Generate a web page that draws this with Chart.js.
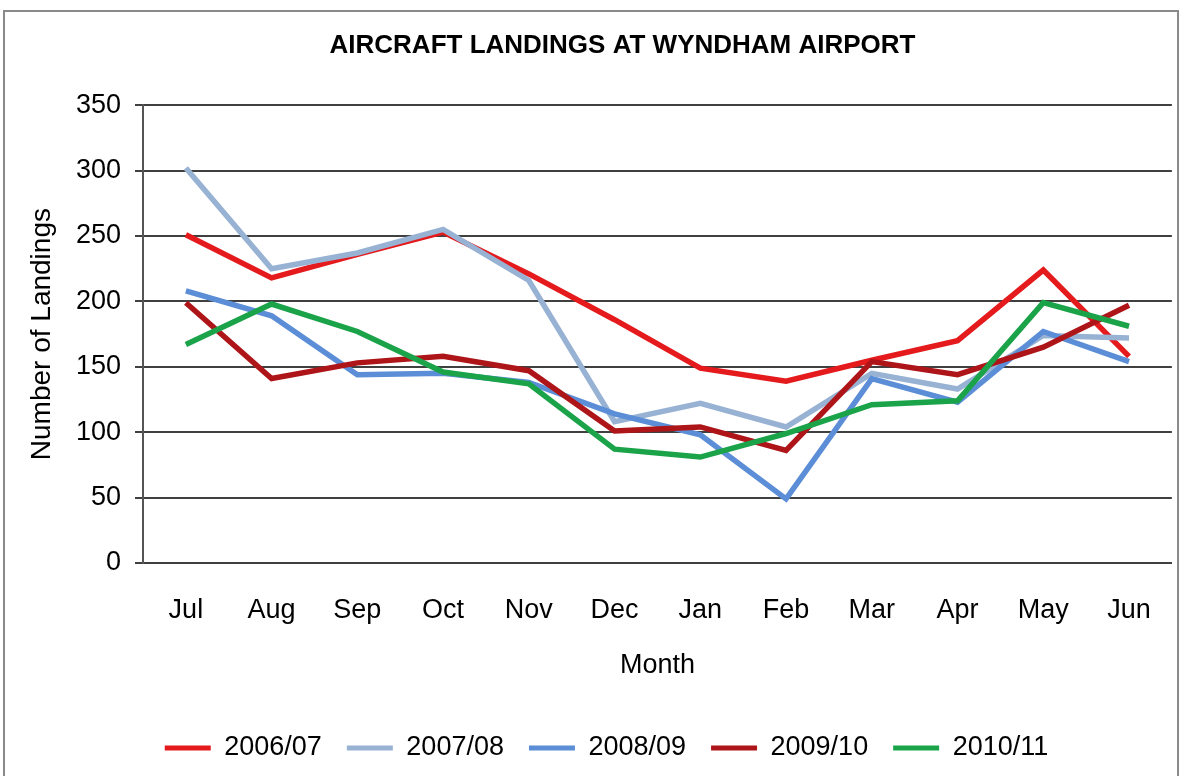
<!DOCTYPE html>
<html>
<head>
<meta charset="utf-8">
<script src="https://cdn.jsdelivr.net/npm/chart.js@4/dist/chart.umd.min.js"></script>
<style>
  html, body { margin: 0; padding: 0; background: #fff; }
  #wrap { width: 1182px; height: 776px; }
</style>
</head>
<body>
<div id="wrap"><canvas id="grafico" width="1182" height="776"></canvas></div>
<script>
// Datos del gráfico
const meses = ['Jul', 'Aug', 'Sep', 'Oct', 'Nov', 'Dec', 'Jan', 'Feb', 'Mar', 'Apr', 'May', 'Jun'];
const anios = ['2006/07', '2007/08', '2008/09', '2009/10', '2010/11'];
const aterrizajes0607 = [251, 218, 236, 253, 221, 186, 149, 139, 155, 170, 224, 158];
const aterrizajes0708 = [302, 225, 237, 255, 216, 108, 122, 104, 145, 133, 174, 172];
const aterrizajes0809 = [208, 189, 144, 145, 138, 114, 98, 49, 141, 123, 177, 154];
const aterrizajes0910 = [199, 141, 153, 158, 147, 101, 104, 86, 154, 144, 165, 197];
const aterrizajes1011 = [167, 198, 177, 146, 137, 87, 81, 99, 121, 124, 199, 181];
const colores = ['#E41A1C', '#98B2D4', '#5B8ED6', '#AE1519', '#1BA34A'];

const series = [aterrizajes0607, aterrizajes0708, aterrizajes0809, aterrizajes0910, aterrizajes1011];
const fuente = '"Liberation Sans", Arial, sans-serif';

// marco gris alrededor del gráfico
const marco = {
  id: 'marco',
  beforeDraw(chart) {
    const c = chart.ctx;
    c.save();
    c.fillStyle = '#fff';
    c.fillRect(0, 0, chart.width, chart.height);
    c.strokeStyle = '#8a8a8a';
    c.lineWidth = 2;
    c.strokeRect(4, 11, 1174, 800);
    c.restore();
  },
  afterLayout(chart) {
    // correr leyenda y título un poco a la derecha, como en el original
    chart.legend.left += 18;
    chart.legend.right += 18;
    chart.titleBlock.left += 34;
    chart.titleBlock.right += 34;
  }
};

const ctx = document.getElementById('grafico').getContext('2d');
const miGrafico = new Chart(ctx, {
  type: 'line',
  data: {
    labels: meses,
    datasets: series.map((datos, i) => ({
      label: anios[i],
      data: datos,
      borderColor: colores[i],
      backgroundColor: colores[i],
      borderWidth: 5.5,
      pointRadius: 0,
      tension: 0,
      fill: false,
      order: 4 - i
    }))
  },
  options: {
    responsive: false,
    animation: false,
    layout: { padding: { left: 0, right: 5, top: 0, bottom: 4.5 } },
    plugins: {
      title: {
        display: true,
        text: 'AIRCRAFT LANDINGS AT WYNDHAM AIRPORT',
        color: '#000',
        font: { family: fuente, size: 26, weight: 'bold' },
        padding: { top: 30, bottom: 44 }
      },
      legend: {
        position: 'bottom',
        labels: {
          color: '#000',
          font: { family: fuente, size: 27 },
          boxWidth: 46,
          boxHeight: 5,
          padding: 25,
          sort: (a, b) => a.datasetIndex - b.datasetIndex,
          generateLabels(chart) {
            const items = Chart.defaults.plugins.legend.labels.generateLabels(chart);
            items.forEach(it => { it.lineWidth = 0; });
            return items;
          }
        }
      },
      tooltip: { enabled: false }
    },
    scales: {
      x: {
        offset: true,
        grid: { display: false, drawTicks: false },
        border: { display: true, color: '#404040', width: 2 },
        ticks: { color: '#000', font: { family: fuente, size: 27 }, padding: 31, maxRotation: 0 },
        title: {
          display: true,
          text: 'Month',
          color: '#000',
          font: { family: fuente, size: 27 },
          padding: { top: 0, bottom: 28 }
        },
        afterFit(scale) { scale.height = 146.5; }
      },
      y: {
        min: 0,
        max: 350,
        grid: { color: '#404040', lineWidth: 2, tickLength: 8 },
        border: { display: true, color: '#555', width: 2 },
        ticks: { stepSize: 50, color: '#000', font: { family: fuente, size: 27 }, padding: 14 },
        title: {
          display: true,
          text: 'Number of Landings',
          color: '#000',
          font: { family: fuente, size: 28 },
          padding: { top: 25, bottom: 0 }
        },
        afterFit(scale) { scale.width = 143; }
      }
    }
  },
  plugins: [marco]
});
</script>
</body>
</html>
